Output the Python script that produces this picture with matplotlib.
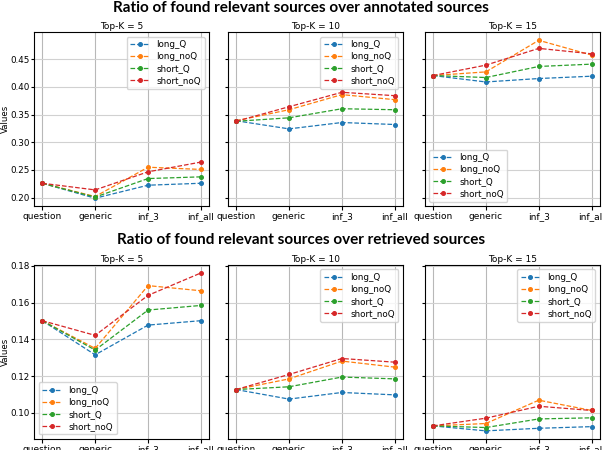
import matplotlib
matplotlib.use("Agg")
import matplotlib.pyplot as plt

steps = ["question", "generic", "inf_3", "inf_all"]
series = ["long_Q", "long_noQ", "short_Q", "short_noQ"]
colors = ["#1f77b4", "#ff7f0e", "#2ca02c", "#d62728"]
topk = [5, 10, 15]

# ratio over annotated sources, per top-K, per series
ann_k5 = {"long_Q": [0.226, 0.199, 0.2225, 0.226],
          "long_noQ": [0.226, 0.202, 0.255, 0.251],
          "short_Q": [0.226, 0.201, 0.2345, 0.2376],
          "short_noQ": [0.226, 0.214, 0.2467, 0.2643]}
ann_k10 = {"long_Q": [0.339, 0.3243, 0.3358, 0.3322],
           "long_noQ": [0.339, 0.3589, 0.3862, 0.3771],
           "short_Q": [0.338, 0.3443, 0.3607, 0.3589],
           "short_noQ": [0.338, 0.3643, 0.3904, 0.3843]}
ann_k15 = {"long_Q": [0.4207, 0.4091, 0.4153, 0.4195],
           "long_noQ": [0.4207, 0.4273, 0.4844, 0.4576],
           "short_Q": [0.4207, 0.4171, 0.4371, 0.4413],
           "short_noQ": [0.4207, 0.4395, 0.4698, 0.460]}

# ratio over retrieved sources
ret_k5 = {"long_Q": [0.1502, 0.1316, 0.1478, 0.1502],
          "long_noQ": [0.1502, 0.1351, 0.1693, 0.1665],
          "short_Q": [0.1502, 0.1342, 0.156, 0.1585],
          "short_noQ": [0.1502, 0.1422, 0.164, 0.1762]}
ret_k10 = {"long_Q": [0.1127, 0.1075, 0.1111, 0.1098],
           "long_noQ": [0.1127, 0.1185, 0.1282, 0.1249],
           "short_Q": [0.1127, 0.1142, 0.1195, 0.1185],
           "short_noQ": [0.1127, 0.1209, 0.1296, 0.1276]}
ret_k15 = {"long_Q": [0.0929, 0.0902, 0.0916, 0.0925],
           "long_noQ": [0.0929, 0.0942, 0.1069, 0.1013],
           "short_Q": [0.0929, 0.092, 0.0967, 0.0973],
           "short_noQ": [0.0929, 0.0971, 0.1036, 0.1013]}

rows = [("Ratio of found relevant sources over annotated sources", [ann_k5, ann_k10, ann_k15],
         ["upper right", "upper right", "lower left"]),
        ("Ratio of found relevant sources over retrieved sources", [ret_k5, ret_k10, ret_k15],
         ["lower left", "upper right", "upper right"])]

fig = plt.figure(figsize=(6.02, 4.5), dpi=100)
lefts = [0.057, 0.379, 0.706]
w = 0.290
bottoms = [0.542, 0.025]
h = 0.386
title_y = [0.997, 0.482]

for r, (sup, datas, locs) in enumerate(rows):
    fig.text(0.5, title_y[r], sup, ha="center", va="top", fontsize=11,
             fontweight="bold", family=["Lato", "DejaVu Sans"])
    first = None
    for c in range(3):
        ax = fig.add_axes([lefts[c], bottoms[r], w, h], sharey=first)
        if first is None:
            first = ax
        d = datas[c]
        for s, col in zip(series, colors):
            ax.plot(steps, d[s], ls="--", marker="o", ms=2.6, lw=0.9, color=col, label=s)
        ax.set_title("Top-K = %d" % topk[c], fontsize=6.5, pad=2.5)
        ax.tick_params(labelsize=6.5, length=3, pad=1.5)
        ax.tick_params(axis="y", labelsize=6.3, length=2.5, pad=1)
        ax.grid(True, axis="x", color="0.72", lw=0.8)
        ax.grid(True, axis="y", color="0.82", lw=0.8)
        ax.legend(loc=locs[c], fontsize=6.3, handlelength=2.2, labelspacing=0.35)
        if c == 0:
            ax.set_ylabel("Values", fontsize=6.2)
            ax.yaxis.set_label_coords(-0.142, 0.5)
        else:
            plt.setp(ax.get_yticklabels(), visible=False)
    if r == 0:
        first.set_yticks([0.20, 0.25, 0.30, 0.35, 0.40, 0.45])
    else:
        first.set_yticks([0.10, 0.12, 0.14, 0.16, 0.18])

fig.savefig("out.png", dpi=100)
